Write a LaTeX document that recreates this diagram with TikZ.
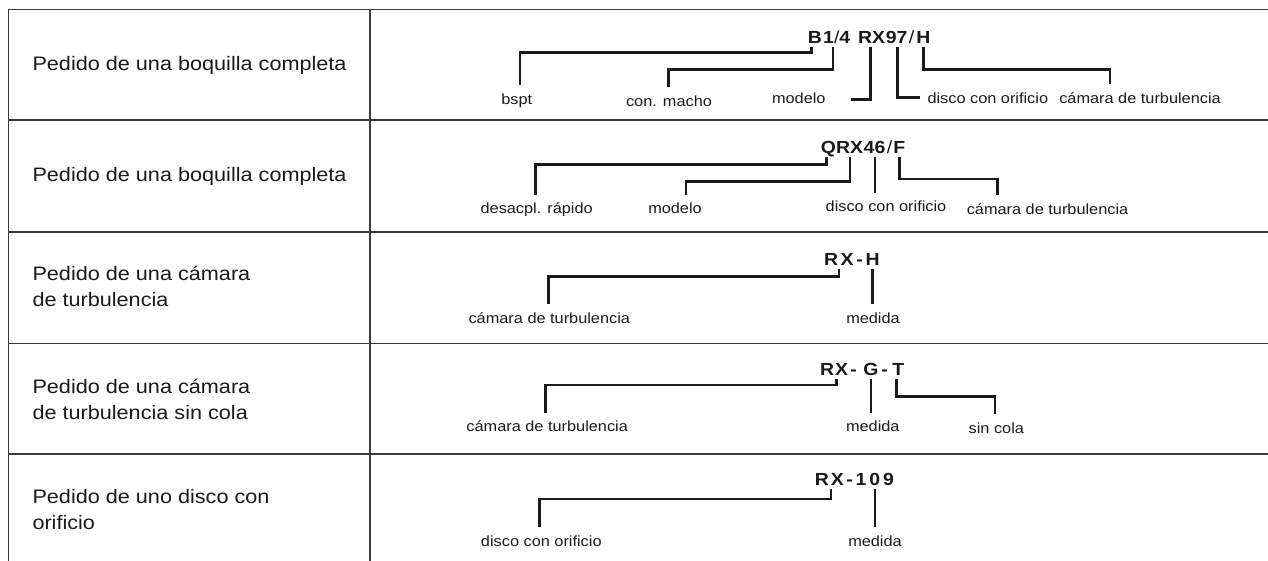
\documentclass[tikz,border=0pt]{standalone}
\usepackage{fontspec}
\setmainfont[FakeStretch=1.11]{Liberation Sans}
\definecolor{ink}{HTML}{1A1A1A}
\definecolor{rulec}{HTML}{3A3A3A}
\tikzset{
  tbl/.style={draw=rulec, line width=1.3pt},
  conn/.style={draw=ink, line width=2.5pt},
  lefttxt/.style={anchor=base west, inner sep=0pt, align=left, text=ink, font=\fontsize{19.5}{25.5}\selectfont},
  code/.style={anchor=base, inner xsep=0pt, inner ysep=3.5pt, text height=12pt, text depth=0pt, text=ink, font=\bfseries\fontsize{17.5}{20}\selectfont},
  slash/.style={code, font=\fontsize{17.5}{20}\selectfont},
  lab/.style={anchor=base, inner xsep=0pt, inner ysep=8pt, text height=11pt, text depth=3pt, text=ink, font=\fontsize{14.7}{17}\selectfont},
}
\begin{document}
\begin{tikzpicture}[x=1pt, y=-1pt]
\useasboundingbox (0,0) rectangle (1268,560);
\clip (0,0) rectangle (1268,560);
\fill[white] (0,0) rectangle (1268,560);
% table
\draw[tbl] (8.7,600) -- (8.7,9.5) -- (1300,9.5);
\draw[tbl] (370,9.5) -- (370,600);
\foreach \yy in {120,232,343.3,454} \draw[tbl] (8.7,\yy) -- (1300,\yy);

% ---------- row 1
\node[lefttxt] (p1) at (32.3,70) {Pedido de una boquilla completa};
\node[code] (r1B) at (815,43.3) {B};
\node[code] (r1q) at (836.7,43.3) {1{\mdseries/}4};
\node[code] (r1m) at (871.5,43.3) {RX};
\node[code] (r1d) at (896.7,43.3) {97};
\node[slash] (r1s) at (911.5,43.3) {/};
\node[code] (r1c) at (923.3,43.3) {H};
\node[lab] (l1a) at (516.7,104) {bspt};
\node[lab] (l1b) at (669,106) {con. macho};
\node[lab] (l1c) at (798.8,103.7) {modelo};
\node[lab, anchor=base west] (l1d) at (927.3,103.3) {disco con orificio};
\node[lab] (l1e) at (1140,103.3) {cámara de turbulencia};
\coordinate (k1a) at (520,52.3);
\draw[conn] ([xshift=-3.3pt]r1B.south) |- (k1a) -- (k1a |- l1a.north);
\coordinate (k1b) at (668.3,69.3);
\draw[conn] ([xshift=-3.7pt]r1q.south) |- (k1b) -- (k1b |- l1b.north);
\coordinate (k1c) at (851,99.3);
\draw[conn] ([xshift=-0.8pt]r1m.south) |- (k1c);
\coordinate (k1d) at (920,97.7);
\draw[conn] ([xshift=1pt]r1d.south) |- (k1d);
\coordinate (k1e) at (1110,69.3);
\draw[conn] (r1c.south) |- (k1e) -- (k1e |- l1e.north);

% ---------- row 2
\node[lefttxt] (p2) at (32.3,181) {Pedido de una boquilla completa};
\node[code] (r2a) at (828.5,153.3) {Q};
\node[code] (r2b) at (849.5,153.3) {RX};
\node[code] (r2c) at (874.5,153.3) {46};
\node[slash] (r2s) at (889.5,153.3) {/};
\node[code] (r2d) at (899.3,153.3) {F};
\node[lab] (l2a) at (536.7,213.7) {desacpl. rápido};
\node[lab] (l2b) at (675,213.7) {modelo};
\node[lab] (l2c) at (886,211.7) {disco con orificio};
\node[lab] (l2d) at (1047.5,214.3) {cámara de turbulencia};
\coordinate (k2a) at (535.7,164.3);
\draw[conn] ([xshift=-1.8pt]r2a.south) |- (k2a) -- (k2a |- l2a.north);
\coordinate (k2b) at (686,181.7);
\draw[conn] ([xshift=0.5pt]r2b.south) |- (k2b) -- (k2b |- l2b.north);
\draw[conn] ([xshift=0.5pt]r2c.south) -- ([xshift=0.5pt]r2c.south |- l2c.north);
\coordinate (k2d) at (997.7,179);
\draw[conn] (r2d.south) |- (k2d) -- (k2d |- l2d.north);

% ---------- row 3 (base anchor = last line)
\node[lefttxt] (p3) at (32.3,306) {Pedido de una cámara\\de turbulencia};
\node[code] (r3a) at (838.8,265.7) {R\kern2.5pt X};
\node[code] (r3h) at (859.5,265.7) {-};
\node[code] (r3b) at (872.6,265.7) {H};
\node[lab] (l3a) at (549.3,323.3) {cámara de turbulencia};
\node[lab] (l3b) at (873,323.3) {medida};
\coordinate (k3a) at (548.3,276.7);
\draw[conn] (r3a.south) |- (k3a) -- (k3a |- l3a.north);
\draw[conn] (r3b.south) -- (r3b.south |- l3b.north);

% ---------- row 4
\node[lefttxt] (p4) at (32.3,419.3) {Pedido de una cámara\\de turbulencia sin cola};
\node[code] (r4a) at (834.2,375.7) {R\kern1pt X};
\node[code] (r4h1) at (853.5,375.7) {-};
\node[code] (r4g) at (870.8,375.7) {G};
\node[code] (r4h2) at (884.6,375.7) {-};
\node[code] (r4t) at (898.3,375.7) {T};
\node[lab] (l4a) at (547.2,431.7) {cámara de turbulencia};
\node[lab] (l4b) at (872.8,431.7) {medida};
\node[lab] (l4c) at (996.3,433.3) {sin cola};
\coordinate (k4a) at (545.7,385);
\draw[conn] ([xshift=2.5pt]r4a.south) |- (k4a) -- (k4a |- l4a.north);
\draw[conn] (r4g.south) -- (r4g.south |- l4b.north);
\coordinate (k4c) at (995,396.7);
\draw[conn] ([xshift=-1.6pt]r4t.south) |- (k4c) -- (k4c |- l4c.north);

% ---------- row 5
\node[lefttxt] (p5) at (32.3,529) {Pedido de uno disco con\\orificio};
\node[code] (r5a) at (829.3,485.7) {R\kern2pt X};
\node[code] (r5h) at (849.7,485.7) {-};
\node[code] (r5n) at (874.8,485.7) {1\kern3pt 0\kern3pt 9};
\node[lab] (l5a) at (541.3,546) {disco con orificio};
\node[lab] (l5b) at (875,546) {medida};
\coordinate (k5a) at (539.3,499);
\draw[conn] ([xshift=1.7pt]r5a.south) |- (k5a) -- (k5a |- l5a.north);
\draw[conn] (r5n.south) -- (r5n.south |- l5b.north);
\end{tikzpicture}
\end{document}
